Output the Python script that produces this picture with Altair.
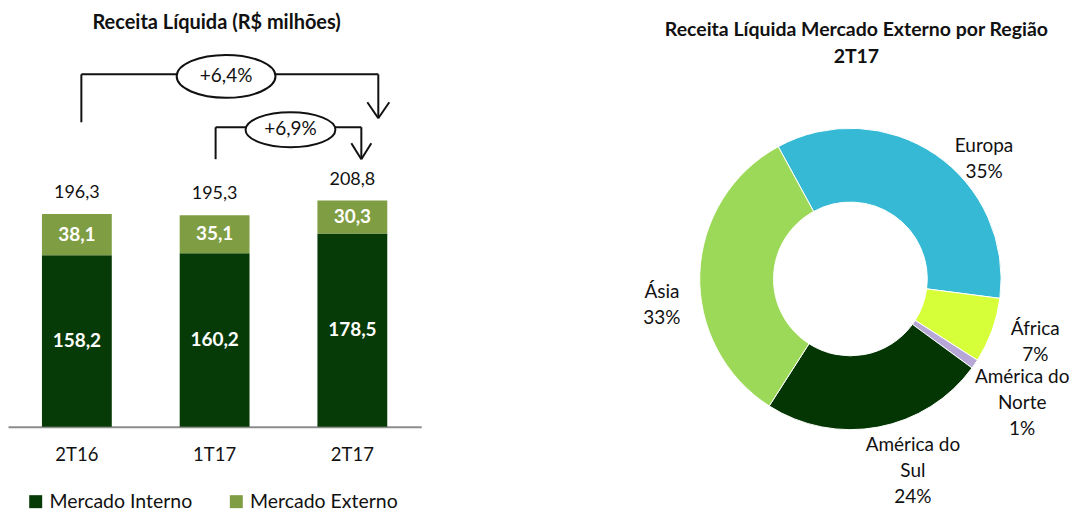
import math
import altair as alt
import pandas as pd

FONT = "Lato"
BLACK = "#111111"

# ---------------- data ----------------
periodos = ["2T16", "1T17", "2T17"]
mercado_interno = [158.2, 160.2, 178.5]
mercado_externo = [38.1, 35.1, 30.3]
series = ["Mercado Interno", "Mercado Externo"]
cores_barras = ["#063A06", "#7F9D42"]

regioes = ["Europa", "África", "América do Norte", "América do Sul", "Ásia"]
participacao = [35, 7, 1, 24, 33]
cores_regioes = ["#36B9D5", "#D6FF3A", "#B7A7D6", "#043604", "#9DD959"]


def br(v, nd=1):
    return f"{v:.{nd}f}".replace(".", ",")


rows = []
for i, p in enumerate(periodos):
    for j, vals in enumerate([mercado_interno, mercado_externo]):
        rows.append({"periodo": p, "serie": series[j], "valor": vals[i], "ord": j,
                     "rotulo": br(vals[i])})
df_bar = pd.DataFrame(rows)

totais = [round(a + b, 1) for a, b in zip(mercado_interno, mercado_externo)]
df_tot = pd.DataFrame({"periodo": periodos, "total": totais,
                       "rotulo": [br(t) for t in totais]})

cresc_ano = "+" + br((totais[2] / totais[0] - 1) * 100) + "%"
cresc_tri = "+" + br((totais[2] / totais[1] - 1) * 100) + "%"

df_reg = pd.DataFrame({
    "regiao": regioes,
    "valor": participacao,
    "ord": list(range(len(regioes))),
    "rotulo": [r.replace("América do ", "América do\n") + "\n" + f"{v}%"
               for r, v in zip(regioes, participacao)],
})

# ---------------- left: stacked bars ----------------
W1, H1 = 414, 419
Y_MAX = 386.2
y_scale = alt.Scale(domain=[0, Y_MAX], nice=False, zero=True)

x_enc = alt.X("periodo:N", sort=periodos,
              scale=alt.Scale(paddingInner=0.493, paddingOuter=0.2465),
              axis=alt.Axis(title=None, labelAngle=0, ticks=False, labelFontSize=18.5,
                            labelFont=FONT, labelColor=BLACK, labelPadding=19,
                            domainColor="#8C8C8C", domainWidth=2))

stacked = alt.Chart(df_bar).transform_stack(
    stack="valor", groupby=["periodo"], sort=[alt.SortField("ord")], as_=["y0", "y1"]
)

bars = stacked.mark_bar().encode(
    x=x_enc,
    y=alt.Y("y0:Q", scale=y_scale, axis=None),
    y2="y1:Q",
    color=alt.Color("serie:N", sort=series,
                    scale=alt.Scale(domain=series, range=cores_barras),
                    legend=alt.Legend(title=None, orient="none", legendX=18, legendY=484,
                                      direction="horizontal", symbolType="square",
                                      symbolSize=169, symbolStrokeWidth=0,
                                      labelFontSize=19.5, labelFont=FONT, labelColor=BLACK,
                                      labelOffset=4, columnPadding=34)),
)

seg_labels = stacked.transform_calculate(mid="(datum.y0 + datum.y1) / 2").mark_text(
    color="white", fontWeight="bold", fontSize=19, font=FONT, baseline="middle"
).encode(
    x=alt.X("periodo:N", sort=periodos),
    y=alt.Y("mid:Q", scale=y_scale, axis=None),
    text="rotulo:N",
)

tot_labels = alt.Chart(df_tot).mark_text(
    color=BLACK, fontSize=18, font=FONT, baseline="middle", dy=-21
).encode(
    x=alt.X("periodo:N", sort=periodos),
    y=alt.Y("total:Q", scale=y_scale, axis=None),
    text="rotulo:N",
)

one = pd.DataFrame({"k": [0]})


def seg(x1, y1, x2, y2):
    return alt.Chart(one).mark_rule(color=BLACK, strokeWidth=2).encode(
        x=alt.value(x1), y=alt.value(y1), x2=alt.value(x2), y2=alt.value(y2))


def ellipse(cx, cy, w, h):
    ry = h / w
    path = f"M -1 0 A 1 {ry:.3f} 0 1 1 1 0 A 1 {ry:.3f} 0 1 1 -1 0 Z"
    return alt.Chart(one).mark_point(
        shape=path, size=w * w, filled=True, fill="white", stroke=BLACK,
        strokeWidth=2, opacity=1
    ).encode(x=alt.value(cx), y=alt.value(cy))


def label(txt, cx, cy, size=18, bold=False):
    return alt.Chart(pd.DataFrame({"t": [txt]})).mark_text(
        fontSize=size, font=FONT, color=BLACK, baseline="middle", align="center",
        fontWeight="bold" if bold else "normal"
    ).encode(x=alt.value(cx), y=alt.value(cy), text="t:N")


annot = [
    # bracket 2T16 -> 2T17
    seg(73.5, 66, 73.5, 114), seg(73.5, 66, 371, 66), seg(371, 66, 371, 110),
    seg(360, 94, 371, 110), seg(382, 94, 371, 110),
    ellipse(218.5, 68, 99, 43), label(cresc_ano, 218.5, 67.5, size=19),
    # bracket 1T17 -> 2T17
    seg(208, 119, 208, 151), seg(208, 119, 354, 119), seg(354, 119, 354, 151),
    seg(344, 135, 354, 151), seg(364, 135, 354, 151),
    ellipse(283, 121.5, 90, 35), label(cresc_tri, 283, 121, size=19),
    # title
    label("Receita Líquida (R$ milhões)", 209, 15, size=20, bold=True),
]

left = alt.layer(bars, seg_labels, tot_labels, *annot).properties(width=W1, height=H1)

# ---------------- right: donut ----------------
W2, H2 = 440, 419
CX, CY = 252, 271
A0 = -0.4992
theta_enc = alt.Theta("valor:Q", stack=True,
                      scale=alt.Scale(domain=[0, 100], range=[A0, A0 + 2 * math.pi]))

arcs = alt.Chart(df_reg).mark_arc(outerRadius=151, innerRadius=77, stroke="white",
                                  strokeWidth=1).encode(
    theta=theta_enc,
    color=alt.Color("regiao:N", scale=alt.Scale(domain=regioes, range=cores_regioes),
                    legend=None),
    order=alt.Order("ord:Q"),
    x=alt.value(CX), y=alt.value(CY),
)

label_pos = {
    "Europa": (175, 35, 11),
    "África": (196, 1, -17),
    "América do Norte": (211, -2, -21),
    "América do Sul": (199, 26, -29),
    "Ásia": (188, -1, 20),
}

reg_labels = []
for reg in regioes:
    r, dx, dy = label_pos[reg]
    reg_labels.append(
        alt.Chart(df_reg).mark_text(
            radius=r, dx=dx, dy=dy, fontSize=19, font=FONT, color=BLACK,
            lineBreak="\n", baseline="middle", align="center", lineHeight=26
        ).encode(
            theta=theta_enc,
            order=alt.Order("ord:Q"),
            text=alt.condition(alt.datum.regiao == reg, "rotulo:N", alt.value("")),
            x=alt.value(CX), y=alt.value(CY),
        )
    )

right = alt.layer(
    arcs, *reg_labels,
    label("Receita Líquida Mercado Externo por Região", 258, 22, size=19.5, bold=True),
    label("2T17", 258, 49, size=19.5, bold=True),
).properties(width=W2, height=H2)

chart = alt.hconcat(left, right, spacing=178).resolve_scale(
    color="independent", theta="independent"
).properties(padding=0).configure_view(strokeWidth=0)

chart.save("out.html", embed_options={"renderer": "svg", "actions": False})
